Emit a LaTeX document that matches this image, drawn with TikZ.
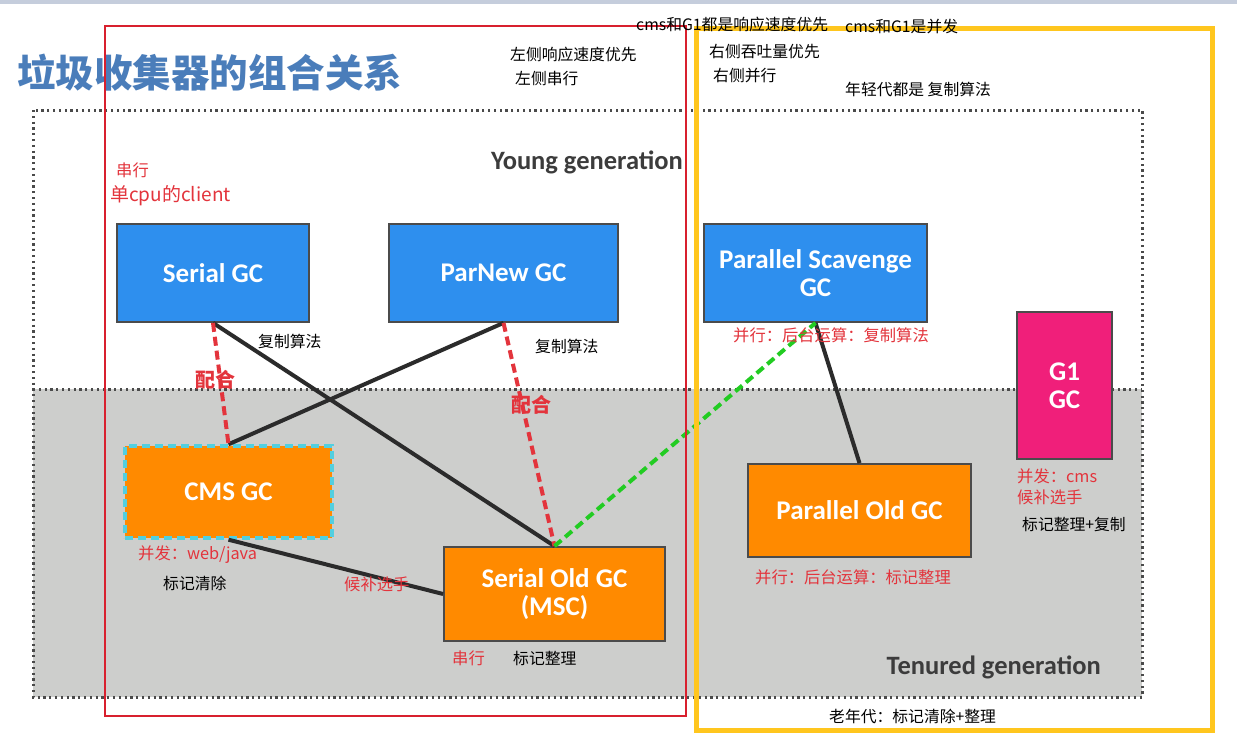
\documentclass[tikz,border=0pt]{standalone}
\usepackage{fontspec}
\newfontfamily\cjk{Noto Sans CJK SC}
\newfontfamily\boxfont{Carlito}
\definecolor{gcblue}{HTML}{2E8FEE}
\definecolor{gcorange}{HTML}{FF8A00}
\definecolor{gcpink}{HTML}{F01F7A}
\definecolor{tenured}{HTML}{CDCECC}
\definecolor{annred}{HTML}{E3343C}
\definecolor{framered}{HTML}{D8202E}
\definecolor{frameyellow}{HTML}{FFC61E}
\definecolor{titleblue}{HTML}{4A7DBA}
\definecolor{linedark}{HTML}{2B2B2B}
\definecolor{dotgray}{HTML}{4A4A4A}
\definecolor{gentext}{HTML}{3C3C3C}
\definecolor{topbar}{HTML}{C5CDDC}
\definecolor{cmsborder}{HTML}{52CFE0}
\definecolor{greenline}{HTML}{22CC22}
\begin{document}
\begin{tikzpicture}[x=1pt,y=-1pt,
  gcbox/.style={draw=linedark!85, line width=1.8pt, inner sep=0pt, text=white,
    font=\boxfont\bfseries\fontsize{27}{27.5}\selectfont, align=center},
  blue box/.style={gcbox, fill=gcblue},
  orange box/.style={gcbox, fill=gcorange},
  pink box/.style={gcbox, fill=gcpink},
  solidlink/.style={draw=linedark, line width=4pt},
  reddash/.style={draw=annred, line width=4pt, dash pattern=on 9pt off 5pt},
  greendash/.style={draw=greenline, line width=4pt, dash pattern=on 9pt off 5pt},
  note/.style={font=\cjk\fontsize{15.8}{18}\selectfont, text=black, inner sep=0pt, anchor=west},
  rednote/.style={note, font=\cjk\fontsize{16.3}{18}\selectfont, text=annred},
  gen/.style={font=\boxfont\bfseries\fontsize{26.5}{28}\selectfont, text=gentext, inner sep=0pt, anchor=east},
  region/.style={draw=dotgray, line width=3pt, dash pattern=on 2.2pt off 3.6pt}
]
\useasboundingbox (0,0) rectangle (1237,752);
\fill[white] (0,0) rectangle (1237,752);
\fill[topbar] (0,0) rectangle (1237,4);

% title
\node[font=\cjk\bfseries\fontsize{38.5}{40}\selectfont, text=titleblue, inner sep=0pt, anchor=west] (title) at (17,73) {垃圾收集器的组合关系};

% generations
\fill[tenured] (33,389) rectangle (1142,697);
\draw[region] (33,110) rectangle (1142,697);
\draw[region] (33,389) -- (1142,389);
\node[gen] (young) at (683,162) {Young generation};
\node[gen] (tenuredlbl) at (1101,667) {Tenured generation};

% collectors
\node[blue box, minimum width=192pt, minimum height=98pt] (serial) at (213,273) {Serial GC};
\node[blue box, minimum width=229pt, minimum height=98pt] (parnew) at (503.5,273) {ParNew GC};
\node[blue box, minimum width=223pt, minimum height=98pt] (ps) at (815.5,273) {Parallel Scavenge\\GC};
\node[pink box, minimum width=95pt, minimum height=147pt] (g1) at (1064.5,385.5) {G1\\GC};
\node[orange box, draw=cmsborder, line width=3.4pt, dash pattern=on 8pt off 5pt, minimum width=207pt, minimum height=92pt] (cms) at (228.5,492) {CMS GC};
\node[orange box, minimum width=221pt, minimum height=94pt] (serialold) at (554.5,594) {Serial Old GC\\(MSC)};
\node[orange box, minimum width=223pt, minimum height=93pt] (po) at (859.5,510.5) {Parallel Old GC};

% connectors
\draw[solidlink] (serial.south) -- (serialold.north);
\draw[solidlink] (parnew.south) -- (cms.north);
\draw[solidlink] (cms.south) -- (serialold.west);
\draw[solidlink] (ps.south) -- (po.north);
\draw[reddash] (serial.south) -- (cms.north);
\draw[reddash] (parnew.south) -- (serialold.north);
\draw[greendash] (serialold.north) -- (ps.south);

% red annotations
\node[rednote] (chuanxing1) at (116,170) {串行};
\node[rednote, font=\cjk\fontsize{19}{22}\selectfont] (client) at (110,196) {单cpu的client};
\node[rednote, font=\cjk\bfseries\fontsize{20}{22}\selectfont] (peihe1) at (195,380) {配合};
\node[rednote, font=\cjk\bfseries\fontsize{20}{22}\selectfont] (peihe2) at (511,405) {配合};
\node[rednote] (cmsnote) at (138,555) {并发：web/java};
\node[rednote] (houbu1) at (344,584) {候补选手};
\node[rednote] (chuanxing2) at (452,658) {串行};
\node[rednote] (psnote) at (733,335) {并行：后台运算：复制算法};
\node[rednote] (ponote) at (755,577) {并行：后台运算：标记整理};
\node[rednote] (g1note1) at (1017,476) {并发：cms};
\node[rednote] (g1note2) at (1017,497) {候补选手};

% black annotations
\node[note] (copy1) at (258,341) {复制算法};
\node[note] (copy2) at (535,346) {复制算法};
\node[note] (ms) at (163,583) {标记清除};
\node[note] (mc) at (513,658) {标记整理};
\node[note] (g1algo) at (1022,524) {标记整理+复制};
\node[note] (old) at (829,716) {老年代：标记清除+整理};
\node[note] (l1) at (510,54) {左侧响应速度优先};
\node[note] (l2) at (515,79) {左侧串行};
\node[note] (r1) at (709,52) {右侧吞吐量优先};
\node[note] (r2) at (713,76) {右侧并行};
\node[note] (young2) at (845,89) {年轻代都是 复制算法};

% frames
\draw[framered, line width=1.6pt] (105,26) rectangle (686,716);
\draw[frameyellow, line width=5pt] (696,29) rectangle (1212,730);

\node[note] (both1) at (636,24) {cms和G1都是响应速度优先};
\node[note] (both2) at (845,27) {cms和G1是并发};
\end{tikzpicture}
\end{document}
